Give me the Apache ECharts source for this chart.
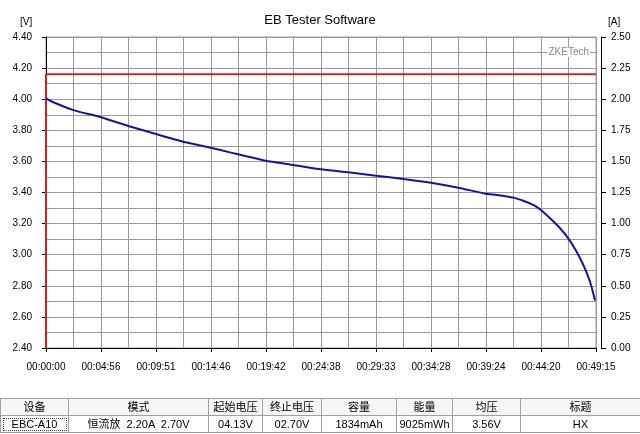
<!DOCTYPE html>
<html>
<head>
<meta charset="utf-8">
<script src="https://cdn.jsdelivr.net/npm/echarts@6/dist/echarts.min.js"></script>
<style>
html,body{margin:0;padding:0;background:#fff;}
#chart{position:absolute;left:0;top:0;width:640px;height:434px;}
#tbl{position:absolute;left:0;top:398px;width:640px;border-collapse:collapse;table-layout:fixed;
 font-family:'Liberation Sans','Noto Sans CJK SC',sans-serif;font-size:11px;color:#000;}
#tbl td{border:1px solid #a0a0a0;text-align:center;padding:0;height:16px;line-height:16px;white-space:pre;overflow:hidden;}
#tbl tr.h td{background:#f6f6f6;}
#tbl td.focus{outline:1px dotted #444;outline-offset:-3px;}
</style>
</head>
<body>
<div id="chart"></div>
<table id="tbl">
<colgroup><col style="width:68px"><col style="width:140px"><col style="width:54px"><col style="width:59px"><col style="width:75px"><col style="width:56px"><col style="width:68px"><col style="width:120px"></colgroup>
<tr class="h" id="hdr"></tr>
<tr id="row"></tr>
</table>
<script>
// ---- data ----
var timeLabels = ['00:00:00','00:04:56','00:09:51','00:14:46','00:19:42','00:24:38','00:29:33','00:34:28','00:39:24','00:44:20','00:49:15'];
var totalSeconds = 2955;
var voltTimes = [0, 30, 147, 296, 442, 591, 689, 738, 885, 989, 1180, 1329, 1477, 1624, 1773, 1920, 2067, 2215, 2362, 2422, 2511, 2564, 2618, 2654, 2708, 2762, 2806, 2851, 2887, 2913, 2931, 2950];
var voltValues = [4.005, 3.985, 3.930, 3.884, 3.828, 3.776, 3.742, 3.727, 3.688, 3.658, 3.604, 3.577, 3.549, 3.530, 3.508, 3.487, 3.463, 3.431, 3.392, 3.384, 3.367, 3.347, 3.320, 3.292, 3.234, 3.170, 3.105, 3.019, 2.934, 2.859, 2.794, 2.705];
var currTimes = [0, 0, 2955];
var currValues = [0, 2.20, 2.20];
var tableHeaders = ['设备','模式','起始电压','终止电压','容量','能量','均压','标题'];
var tableValues = ['EBC-A10','恒流放  2.20A  2.70V','04.13V','02.70V','1834mAh','9025mWh','3.56V','HX'];

// ---- table ----
var hdr = document.getElementById('hdr'), row = document.getElementById('row');
tableHeaders.forEach(function(h){ var td=document.createElement('td'); td.textContent=h; hdr.appendChild(td); });
tableValues.forEach(function(v,i){ var td=document.createElement('td'); td.textContent=v; if(i===0) td.className='focus'; row.appendChild(td); });

// ---- chart ----
var chart = echarts.init(document.getElementById('chart'), null, {renderer:'canvas'});
var step = totalSeconds / (timeLabels.length - 1);
var font = 'Liberation Sans';
var volt = voltTimes.map(function(t,i){ return [t, voltValues[i]]; });
var curr = currTimes.map(function(t,i){ return [t, currValues[i]]; });
chart.setOption({
  animation: false,
  backgroundColor: '#fff',
  title: { text: 'EB Tester Software', left: 'center', top: 9,
    textStyle: { fontFamily: font, fontSize: 13, fontWeight: 'normal', color: '#000' } },
  grid: { left: 46, right: 44, top: 37, bottom: 86, show: true, borderColor: '#999', borderWidth: 1 },
  xAxis: {
    type: 'value', min: 0, max: totalSeconds, interval: step, offset: 4,
    axisLine: { show: true, lineStyle: { color: '#000', width: 1 } },
    axisTick: { show: true, length: 4, lineStyle: { color: '#000' } },
    axisLabel: { margin: 10, fontFamily: font, fontSize: 10, color: '#000',
      formatter: function(v){ return timeLabels[Math.round(v/step)] || ''; } },
    splitLine: { show: true, lineStyle: { color: '#999', width: 1 } },
    minorTick: { show: false, splitNumber: 2 },
    minorSplitLine: { show: true, lineStyle: { color: '#999', width: 1 } }
  },
  yAxis: [{
    type: 'value', min: 2.4, max: 4.4, interval: 0.2, offset: 4, position: 'left',
    axisLine: { show: true, lineStyle: { color: '#000', width: 1 } },
    axisTick: { show: true, length: 4, lineStyle: { color: '#000' } },
    axisLabel: { margin: 10, fontFamily: font, fontSize: 10, color: '#000',
      formatter: function(v){ return v.toFixed(2); } },
    splitLine: { show: true, lineStyle: { color: '#999', width: 1 } },
    minorTick: { show: false, splitNumber: 2 },
    minorSplitLine: { show: true, lineStyle: { color: '#999', width: 1 } }
  },{
    type: 'value', min: 0, max: 2.5, interval: 0.25, offset: 5, position: 'right',
    axisLine: { show: true, lineStyle: { color: '#000', width: 1 } },
    axisTick: { show: true, length: 5, lineStyle: { color: '#000' } },
    axisLabel: { margin: 10, fontFamily: font, fontSize: 10, color: '#000',
      formatter: function(v){ return v.toFixed(2); } },
    splitLine: { show: false }
  }],
  graphic: [
    { type: 'text', left: 20, top: 17, style: { text: '[V]', font: '10px Liberation Sans', fill: '#000' } },
    { type: 'text', left: 608, top: 17, style: { text: '[A]', font: '10px Liberation Sans', fill: '#000' } },
    { type: 'text', right: 50, top: 47, z: 100, style: { text: 'ZKETech', font: '10px Liberation Sans', fill: '#888', backgroundColor: '#fff', padding: [0,1] } }
  ],
  series: [{
    type: 'line', yAxisIndex: 1, data: curr, symbol: 'none', clip: false,
    lineStyle: { color: '#d42020', width: 2 }, z: 3
  },{
    type: 'line', yAxisIndex: 0, data: volt, symbol: 'none', smooth: 0.15,
    lineStyle: { color: '#1414a0', width: 2 }, z: 4
  }]
});
</script>
</body>
</html>
